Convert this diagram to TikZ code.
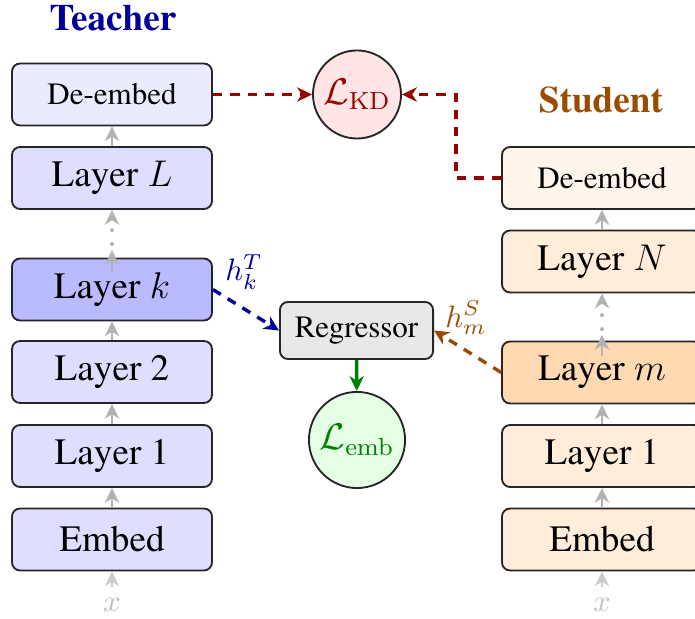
\documentclass[tikz,border=0pt]{standalone}
\usepackage[T1]{fontenc}
\usepackage{times}
\usetikzlibrary{arrows.meta}
\colorlet{tcol}{blue!60!black}
\colorlet{scol}{orange!60!black}
\colorlet{kdcol}{red!60!black}
\colorlet{embcol}{green!50!black}
\begin{document}
\begin{tikzpicture}[x=0.32258pt,y=-0.32258pt,
  box/.style={draw=black!85, line width=0.6pt, rounded corners=2.6pt,
    minimum width=64.5pt, minimum height=20pt, inner sep=0pt, font=\large},
  tbox/.style={box, fill=blue!13},
  sbox/.style={box, fill=orange!15},
  tiptip/.style={-{Stealth[length=4.8pt,width=4.6pt,inset=1.5pt]}},
  garrow/.style={tiptip, draw=gray!60, line width=0.9pt},
  xarrow/.style={tiptip, draw=gray!40, line width=0.9pt},
  dotline/.style={garrow, line width=1.3pt, dash pattern=on 0pt off 4.5pt, dash phase=2.6pt, line cap=round},
  lossnode/.style={circle, draw=black!85, line width=0.6pt, inner sep=1pt, font=\large},
  dasharrow/.style={tiptip, dash pattern=on 3pt off 2.6pt, line width=1.1pt},
  title/.style={font=\large\bfseries}
]
\useasboundingbox (0,0) rectangle (695,619);

% Teacher column
\node[title, text=tcol] (tt) at (113,18) {Teacher};
\node[tbox, fill=blue!8, font=\normalsize] (tde) at (112,94.5) {De-embed};
\node[tbox] (tL) at (112,178) {Layer $L$};
\node[tbox, fill=blue!27] (tk) at (112,289.5) {Layer $k$};
\node[tbox] (t2) at (112,372) {Layer 2};
\node[tbox] (t1) at (112,456) {Layer 1};
\node[tbox] (te) at (112,539.5) {Embed};
\node[text=gray!50] (tx) at (112,605) {$x$};
\coordinate (tdots) at (112,250);

% Student column
\node[title, text=scol] (st) at (601,100) {Student};
\node[sbox, fill=orange!8, font=\normalsize] (sde) at (602,178) {De-embed};
\node[sbox] (sN) at (602,261.5) {Layer $N$};
\node[sbox, fill=orange!30] (sm) at (602,372.5) {Layer $m$};
\node[sbox] (s1) at (602,456) {Layer 1};
\node[sbox] (se) at (602,539.5) {Embed};
\node[text=gray!50] (sx) at (602,605) {$x$};
\coordinate (sdots) at (602,335);

% Middle
\node[lossnode, fill=red!10, minimum size=28.4pt] (kd) at (357,94.5) {$\color{kdcol}\mathcal{L}_{\mathrm{KD}}$};
\node[draw=black!85, line width=0.6pt, rounded corners=2.6pt, fill=black!9,
  minimum width=49.4pt, minimum height=18.4pt, inner sep=0pt] (reg) at (356.5,330.5) {Regressor};
\node[lossnode, fill=green!10, minimum size=31pt] (emb) at (357,440) {$\color{embcol}\mathcal{L}_{\mathrm{emb}}$};
\coordinate (bend) at (456,0);

% Teacher arrows
\draw[xarrow] (tx) -- (te);
\draw[garrow] (te) -- (t1);
\draw[garrow] (t1) -- (t2);
\draw[garrow] (t2) -- (tk);
\draw[garrow] ([yshift=-5pt]tk.north) -- (tdots);
\draw[dotline] (tdots) -- (tL.south);
\draw[garrow] (tL) -- (tde);

% Student arrows
\draw[xarrow] (sx) -- (se);
\draw[garrow] (se) -- (s1);
\draw[garrow] (s1) -- (sm);
\draw[garrow] ([yshift=-5pt]sm.north) -- (sdots);
\draw[dotline] (sdots) -- (sN.south);
\draw[garrow] (sN) -- (sde);

% Distillation arrows
\draw[dasharrow, draw=kdcol] (tde.east) -- (kd.west);
\draw[dasharrow, draw=kdcol] (sde.west) -- (sde.west -| bend) |- (kd.east);
\draw[dasharrow, draw=tcol] (tk.east) -- (reg.west);
\draw[dasharrow, draw=scol] (sm.west) -- (reg.east);
\draw[tiptip, draw=embcol, line width=1.1pt] (reg) -- (emb);

\node[text=tcol] (hk) at (244,272) {$h_k^T$};
\node[text=scol] (hm) at (466,318) {$h_m^S$};
\end{tikzpicture}
\end{document}
